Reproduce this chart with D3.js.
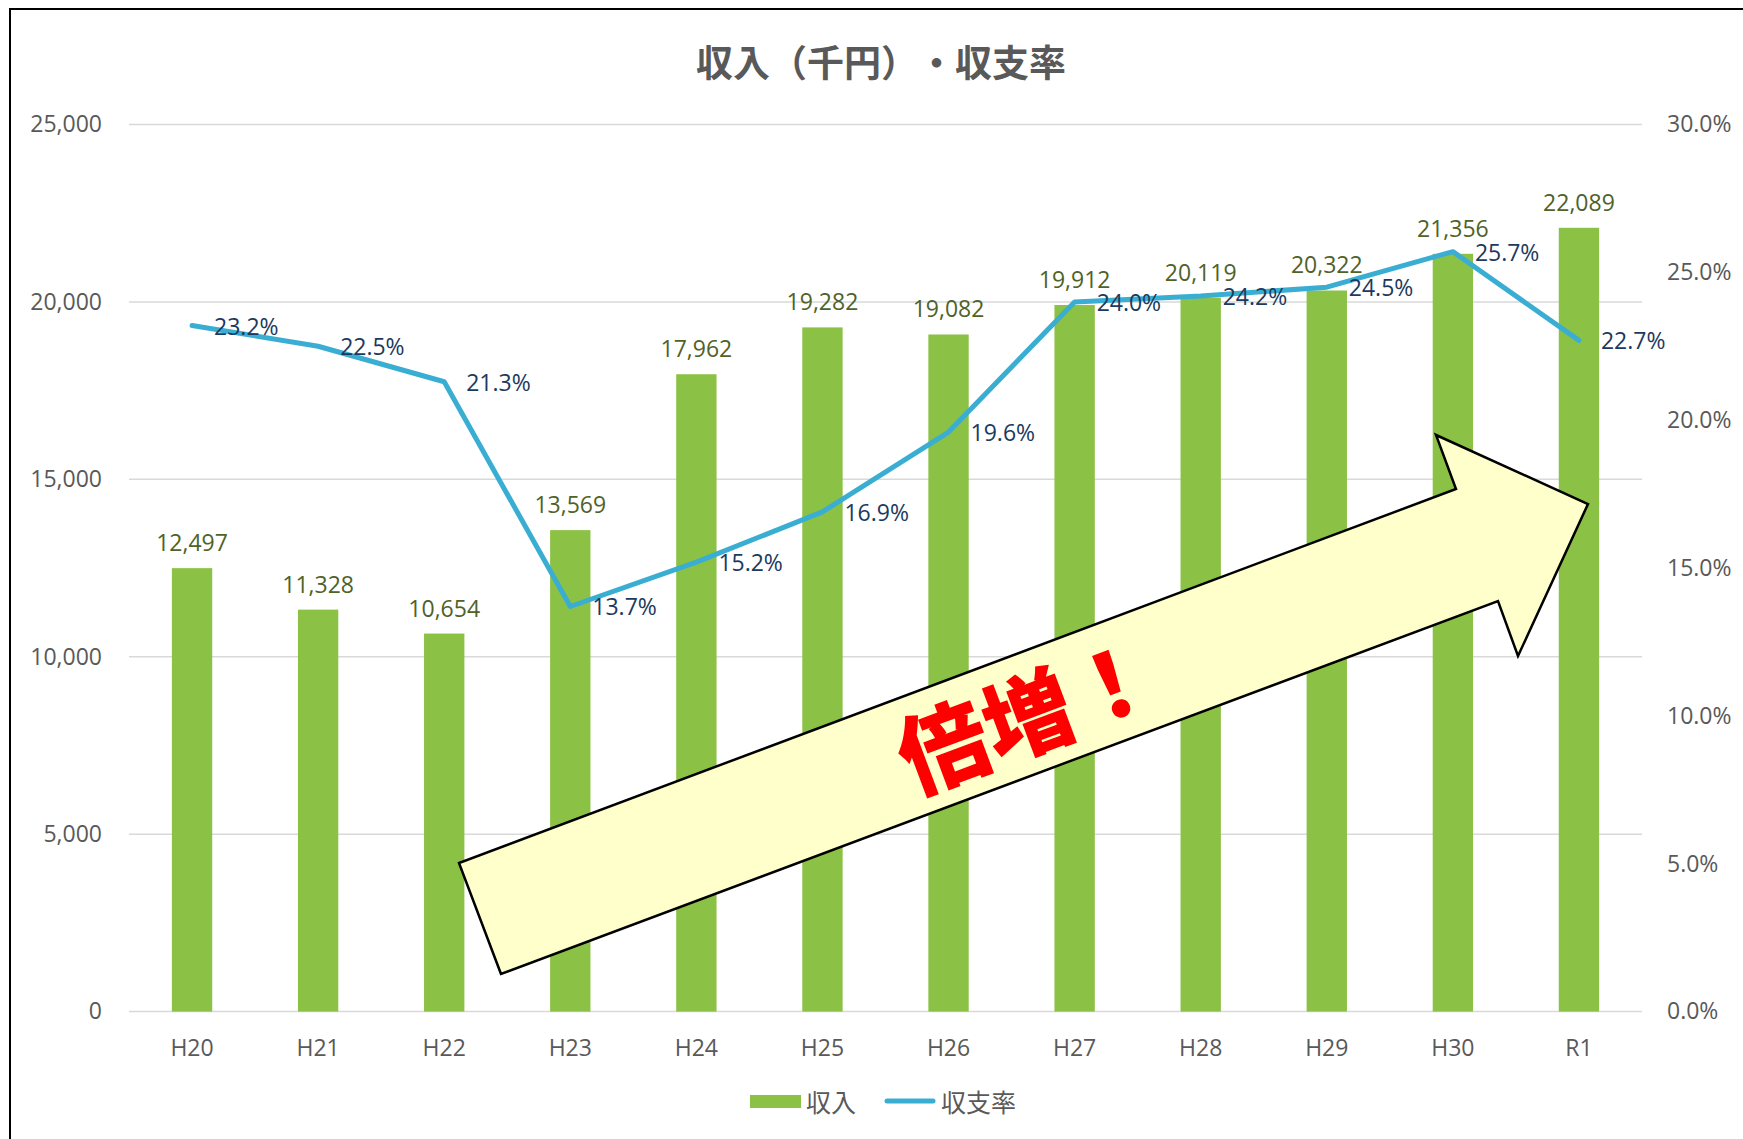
<!DOCTYPE html>
<html>
<head>
<meta charset="utf-8">
<script src="https://cdn.jsdelivr.net/npm/d3@7"></script>
<style>
  body { margin: 0; background: #fff; }
  svg { display: block; }
  svg text { text-spacing-trim: space-all; }
</style>
</head>
<body>
<div id="chart"></div>
<script>
// data
const years = ["H20", "H21", "H22", "H23", "H24", "H25", "H26", "H27", "H28", "H29", "H30", "R1"];
const income = [12497, 11328, 10654, 13569, 17962, 19282, 19082, 19912, 20119, 20322, 21356, 22089];
const rate = [23.2, 22.5, 21.3, 13.7, 15.2, 16.9, 19.6, 24.0, 24.2, 24.5, 25.7, 22.7];
const leftTicks = [0, 5000, 10000, 15000, 20000, 25000];
const rightTicks = [0, 5, 10, 15, 20, 25, 30];

const width = 1743, height = 1139;
const plot = { left: 129, right: 1642, top: 124.5, bottom: 1011.6 };
const numFont = "'Open Sans', 'Noto Sans', sans-serif";
const cjkFont = "'Noto Sans CJK JP', sans-serif";

const svg = d3.select("#chart")
	.append("svg")
	.attr("width", width)
	.attr("height", height);

svg.append("rect")
	.attr("width", width)
	.attr("height", height)
	.attr("fill", "#fff");

// outer frame (cut off on the right and bottom)
svg.append("rect")
	.attr("x", 10)
	.attr("y", 9)
	.attr("width", 3000)
	.attr("height", 3000)
	.attr("fill", "none")
	.attr("stroke", "#000")
	.attr("stroke-width", 2);

// title
svg.append("text")
	.attr("x", 881)
	.attr("y", 61)
	.attr("text-anchor", "middle")
	.attr("dominant-baseline", "central")
	.style("font-family", cjkFont)
	.style("font-weight", 700)
	.style("font-size", "37px")
	.style("fill", "#595959")
	.text("収入（千円）・収支率");

const x = d3.scaleBand()
	.domain(years)
	.range([plot.left, plot.right])
	.paddingInner(0.68)
	.paddingOuter(0.34);

const y = d3.scaleLinear().domain([0, 25000]).range([plot.bottom, plot.top]);
const y2 = d3.scaleLinear().domain([0, 30]).range([plot.bottom, plot.top]);

// gridlines
svg.append("g")
	.selectAll("line")
	.data(leftTicks)
	.enter()
	.append("line")
	.attr("x1", plot.left)
	.attr("x2", plot.right)
	.attr("y1", (d) => y(d))
	.attr("y2", (d) => y(d))
	.style("stroke", "#d9d9d9")
	.style("stroke-width", 1.5);

// left axis
const leftAxis = svg.append("g")
	.attr("transform", "translate(" + 102 + ",0)")
	.call(d3.axisLeft(y).tickValues(leftTicks).tickSize(0).tickPadding(0).tickFormat(d3.format(",")));
leftAxis.select(".domain").remove();
leftAxis.selectAll("text")
	.style("font-family", numFont)
	.style("font-size", "23px")
	.style("fill", "#595959");

// right axis
const rightAxis = svg.append("g")
	.attr("transform", "translate(" + 1667 + ",0)")
	.call(d3.axisRight(y2).tickValues(rightTicks).tickSize(0).tickPadding(0).tickFormat((d) => d.toFixed(1) + "%"));
rightAxis.select(".domain").remove();
rightAxis.selectAll("text")
	.style("font-family", numFont)
	.style("font-size", "23px")
	.style("fill", "#595959");

// category axis
const bottomAxis = svg.append("g")
	.attr("transform", "translate(0," + 1040 + ")")
	.call(d3.axisBottom(x).tickSize(0).tickPadding(0));
bottomAxis.select(".domain").remove();
bottomAxis.selectAll("text")
	.style("font-family", numFont)
	.style("font-size", "23px")
	.style("fill", "#595959");

// bars
svg.append("g")
	.selectAll("rect")
	.data(income)
	.enter()
	.append("rect")
	.attr("x", (d, i) => x(years[i]))
	.attr("y", (d) => y(d))
	.attr("width", x.bandwidth())
	.attr("height", (d) => y(0) - y(d))
	.style("fill", "#8bc145");

// bar labels
svg.append("g")
	.selectAll("text")
	.data(income)
	.enter()
	.append("text")
	.attr("x", (d, i) => x(years[i]) + x.bandwidth() / 2)
	.attr("y", (d) => y(d) - 17)
	.attr("text-anchor", "middle")
	.style("font-family", numFont)
	.style("font-size", "23px")
	.style("fill", "#4f6228")
	.text((d) => d3.format(",")(d));

// ratio line
const line = d3.line()
	.x((d, i) => x(years[i]) + x.bandwidth() / 2)
	.y((d) => y2(d));

svg.append("path")
	.datum(rate)
	.attr("d", line)
	.attr("fill", "none")
	.style("stroke", "#3aaed2")
	.style("stroke-width", 5)
	.style("stroke-linejoin", "round")
	.style("stroke-linecap", "round");

svg.append("g")
	.selectAll("text")
	.data(rate)
	.enter()
	.append("text")
	.attr("x", (d, i) => x(years[i]) + x.bandwidth() / 2 + 22)
	.attr("y", (d) => y2(d))
	.attr("dominant-baseline", "central")
	.style("font-family", numFont)
	.style("font-size", "23px")
	.style("fill", "#1b3a5e")
	.text((d) => d.toFixed(1) + "%");

// block arrow annotation
const arrowPts = [[501, 974], [459, 863], [1456, 489], [1436, 435], [1588, 504], [1518, 656], [1498, 601]];
svg.append("path")
	.attr("d", d3.line()(arrowPts) + "Z")
	.style("fill", "#ffffcc")
	.style("stroke", "#000")
	.style("stroke-width", 2.5)
	.style("stroke-linejoin", "miter");

svg.append("text")
	.attr("transform", "translate(1026,711) rotate(-20.5)")
	.attr("text-anchor", "middle")
	.attr("dominant-baseline", "central")
	.style("font-family", cjkFont)
	.style("font-weight", 900)
	.style("font-size", "90px")
	.style("fill", "#ff0000")
	.text("倍増！");

// legend
const legend = svg.append("g");
legend.append("rect")
	.attr("x", 750)
	.attr("y", 1095)
	.attr("width", 51)
	.attr("height", 13)
	.style("fill", "#8bc145");
legend.append("text")
	.attr("x", 806)
	.attr("y", 1101)
	.attr("dominant-baseline", "central")
	.style("font-family", cjkFont)
	.style("font-size", "25px")
	.style("fill", "#595959")
	.text("収入");
legend.append("line")
	.attr("x1", 887)
	.attr("x2", 933)
	.attr("y1", 1101)
	.attr("y2", 1101)
	.style("stroke", "#3aaed2")
	.style("stroke-width", 5)
	.style("stroke-linecap", "round");
legend.append("text")
	.attr("x", 941)
	.attr("y", 1101)
	.attr("dominant-baseline", "central")
	.style("font-family", cjkFont)
	.style("font-size", "25px")
	.style("fill", "#595959")
	.text("収支率");
</script>
</body>
</html>
